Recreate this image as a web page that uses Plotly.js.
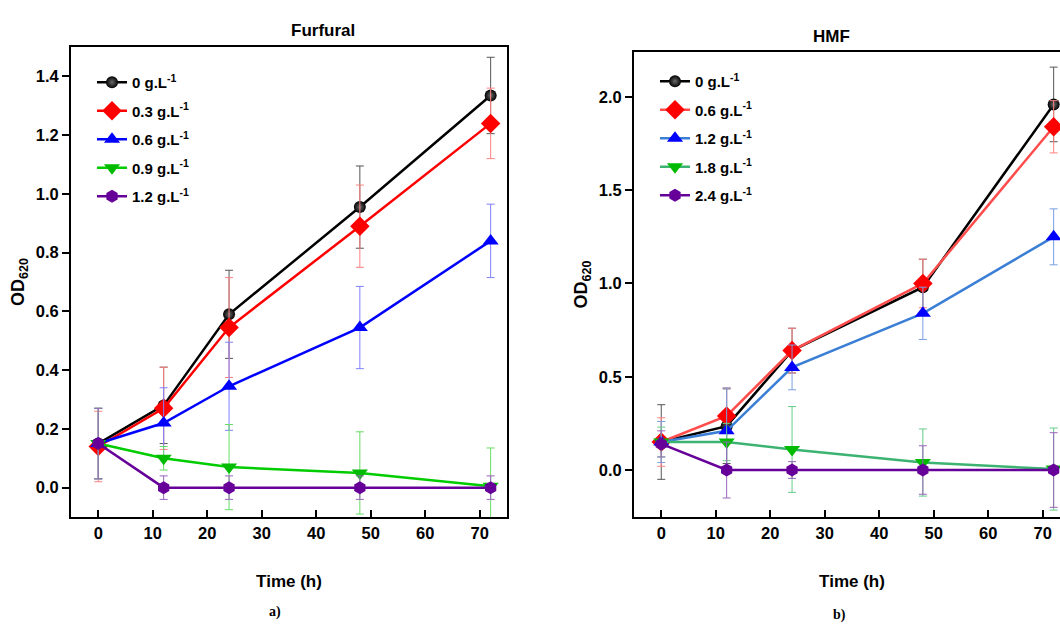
<!DOCTYPE html>
<html><head><meta charset="utf-8">
<script src="https://cdn.plot.ly/plotly-3.0.1.min.js"></script>
<style>html,body{margin:0;padding:0;overflow:hidden;background:#fff}#chart{width:1075px;height:624px}</style>
</head><body><div id="chart"></div>
<script>
const times = [0, 12, 24, 48, 72];
const xTicks = [0, 10, 20, 30, 40, 50, 60, 70];

// Furfural panel
const furfuralNames = ['0 g.L<sup>-1</sup>', '0.3 g.L<sup>-1</sup>', '0.6 g.L<sup>-1</sup>', '0.9 g.L<sup>-1</sup>', '1.2 g.L<sup>-1</sup>'];
const fur0  = [0.15, 0.28, 0.59, 0.955, 1.335];
const fur03 = [0.14, 0.27, 0.545, 0.89, 1.24];
const fur06 = [0.15, 0.22, 0.345, 0.545, 0.84];
const fur09 = [0.15, 0.10, 0.07, 0.05, 0.005];
const fur12 = [0.15, 0.0, 0.0, 0.0, 0.0];
const fur0Err  = [0.12, 0.13, 0.15, 0.14, 0.13];
const fur03Err = [0.12, 0.14, 0.17, 0.14, 0.12];
const fur06Err = [0.12, 0.12, 0.15, 0.14, 0.125];
const fur09Err = [0.12, 0.04, 0.145, 0.14, 0.13];
const fur12Err = [0.12, 0.04, 0.04, 0.04, 0.04];

// HMF panel
const hmfNames = ['0 g.L<sup>-1</sup>', '0.6 g.L<sup>-1</sup>', '1.2 g.L<sup>-1</sup>', '1.8 g.L<sup>-1</sup>', '2.4 g.L<sup>-1</sup>'];
const hmf0  = [0.15, 0.235, 0.64, 0.98, 1.96];
const hmf06 = [0.15, 0.29, 0.64, 1.0, 1.84];
const hmf12 = [0.15, 0.21, 0.55, 0.84, 1.25];
const hmf18 = [0.15, 0.15, 0.11, 0.04, 0.005];
const hmf24 = [0.14, 0.0, 0.0, 0.0, 0.0];
const hmf0Err  = [0.2, 0.2, 0.12, 0.15, 0.2];
const hmf06Err = [0.13, 0.15, 0.12, 0.13, 0.14];
const hmf12Err = [0.11, 0.23, 0.12, 0.14, 0.15];
const hmf18Err = [0.08, 0.1, 0.23, 0.18, 0.22];
const hmf24Err = [0.07, 0.15, 0.045, 0.13, 0.2];

const FONT = 'Arial, "Liberation Sans", sans-serif';

const styles = [
  {symbol: 'circle', mcolor: '#000000', size: 12, grad: true},
  {symbol: 'diamond', mcolor: '#ff0000', size: 15},
  {symbol: 'triangle-up', mcolor: '#0000ff', size: 14},
  {symbol: 'triangle-down', mcolor: '#00bb00', size: 14},
  {symbol: 'hexagon', mcolor: '#660099', size: 13}
];
const furLine = ['#000000', '#ff0000', '#0000ff', '#00cc00', '#660099'];
const furErrC = ['#555555', '#ff8080', '#8080ff', '#66dd66', '#9966bb'];
const hmfLine = ['#000000', '#ff4d4d', '#3a7fd5', '#3cb371', '#660099'];
const hmfErrC = ['#555555', '#ff8080', '#7a9fe0', '#66cc88', '#9966bb'];

function mk(x, y, err, i, name, lineC, errC, axis, legend) {
  const s = styles[i];
  const marker = {symbol: s.symbol, color: s.mcolor, size: s.size, line: {width: 0}};
  if (s.grad) marker.gradient = {type: 'radial', color: '#6a6a6a'};
  return {
    x: x, y: y, name: name, type: 'scatter', mode: 'lines+markers',
    xaxis: axis[0], yaxis: axis[1], legend: legend, legendgroup: legend + i,
    line: {color: lineC[i], width: 2.5},
    marker: marker,
    error_y: {type: 'data', array: err, visible: true, color: errC[i], thickness: 1, width: 4}
  };
}

const furY = [fur0, fur03, fur06, fur09, fur12];
const furE = [fur0Err, fur03Err, fur06Err, fur09Err, fur12Err];
const hmfY = [hmf0, hmf06, hmf12, hmf18, hmf24];
const hmfE = [hmf0Err, hmf06Err, hmf12Err, hmf18Err, hmf24Err];

const data = [];
for (let i = 0; i < 5; i++) data.push(mk(times, furY[i], furE[i], i, furfuralNames[i], furLine, furErrC, ['x', 'y'], 'legend'));
for (let i = 0; i < 5; i++) data.push(mk(times, hmfY[i], hmfE[i], i, hmfNames[i], hmfLine, hmfErrC, ['x2', 'y2'], 'legend2'));

const W = 1075, H = 624;
const tickFont = {family: FONT, size: 16.5, color: '#000', weight: 'bold'};
function xAx(dom, anchor) {
  return {domain: dom, anchor: anchor, range: [-5, 75], tickvals: xTicks, ticks: 'inside', ticklen: 7, tickwidth: 2,
    tickcolor: '#000', showline: true, linewidth: 2, linecolor: '#000', mirror: true, showgrid: false, zeroline: false,
    tickfont: tickFont,
    title: {text: '<b>Time (h)</b>', font: {family: FONT, size: 17, color: '#000'}, standoff: 34}};
}
function yAx(dom, range, tv, tt, anchor) {
  return {domain: dom, anchor: anchor, range: range, tickvals: tv, ticktext: tt, ticks: 'outside', ticklen: 7, tickwidth: 2,
    tickcolor: '#000', showline: true, linewidth: 2, linecolor: '#000', mirror: true, showgrid: false, zeroline: false,
    tickfont: tickFont,
    title: {text: '<b>OD<sub>620</sub></b>', font: {family: FONT, size: 18, color: '#000'}, standoff: 6}};
}
const legFont = {family: FONT, size: 15, color: '#000', weight: 'bold'};
const layout = {
  width: W, height: H, margin: {l: 0, r: 0, t: 0, b: 0}, paper_bgcolor: '#fff', plot_bgcolor: '#fff',
  showlegend: true,
  xaxis: xAx([71 / W, 507 / W], 'y'),
  yaxis: yAx([1 - 517 / H, 1 - 47 / H], [-0.1, 1.5], [0, 0.2, 0.4, 0.6, 0.8, 1.0, 1.2, 1.4], ['0.0', '0.2', '0.4', '0.6', '0.8', '1.0', '1.2', '1.4'], 'x'),
  xaxis2: xAx([634 / W, 1070 / W], 'y2'),
  yaxis2: yAx([1 - 517 / H, 1 - 52 / H], [-0.252, 2.241], [0, 0.5, 1.0, 1.5, 2.0], ['0.0', '0.5', '1.0', '1.5', '2.0'], 'x2'),
  legend: {x: 92 / W, y: 1 - 66 / H, xanchor: 'left', yanchor: 'top', bgcolor: 'rgba(0,0,0,0)', font: legFont,
    tracegroupgap: 6, traceorder: 'grouped', itemwidth: 30},
  legend2: {x: 655 / W, y: 1 - 65 / H, xanchor: 'left', yanchor: 'top', bgcolor: 'rgba(0,0,0,0)', font: legFont,
    tracegroupgap: 6, traceorder: 'grouped', itemwidth: 30},
  annotations: [
    {text: '<b>Furfural</b>', x: 289 / W, y: 1 - 30 / H, xref: 'paper', yref: 'paper', yanchor: 'middle', showarrow: false,
      font: {family: FONT, size: 17, color: '#000'}},
    {text: '<b>HMF</b>', x: 852 / W, y: 1 - 36 / H, xref: 'paper', yref: 'paper', yanchor: 'middle', showarrow: false,
      font: {family: FONT, size: 17, color: '#000'}},
    {text: '<b>a)</b>', x: 267 / W, y: 1 - 612 / H, xref: 'paper', yref: 'paper', yanchor: 'middle', showarrow: false,
      font: {family: '"Liberation Serif", "Times New Roman", serif', size: 14, color: '#000'}},
    {text: '<b>b)</b>', x: 848 / W, y: 1 - 615 / H, xref: 'paper', yref: 'paper', yanchor: 'middle', showarrow: false,
      font: {family: '"Liberation Serif", "Times New Roman", serif', size: 14, color: '#000'}}
  ]
};
Plotly.newPlot('chart', data, layout, {displayModeBar: false, staticPlot: true});
</script></body></html>
